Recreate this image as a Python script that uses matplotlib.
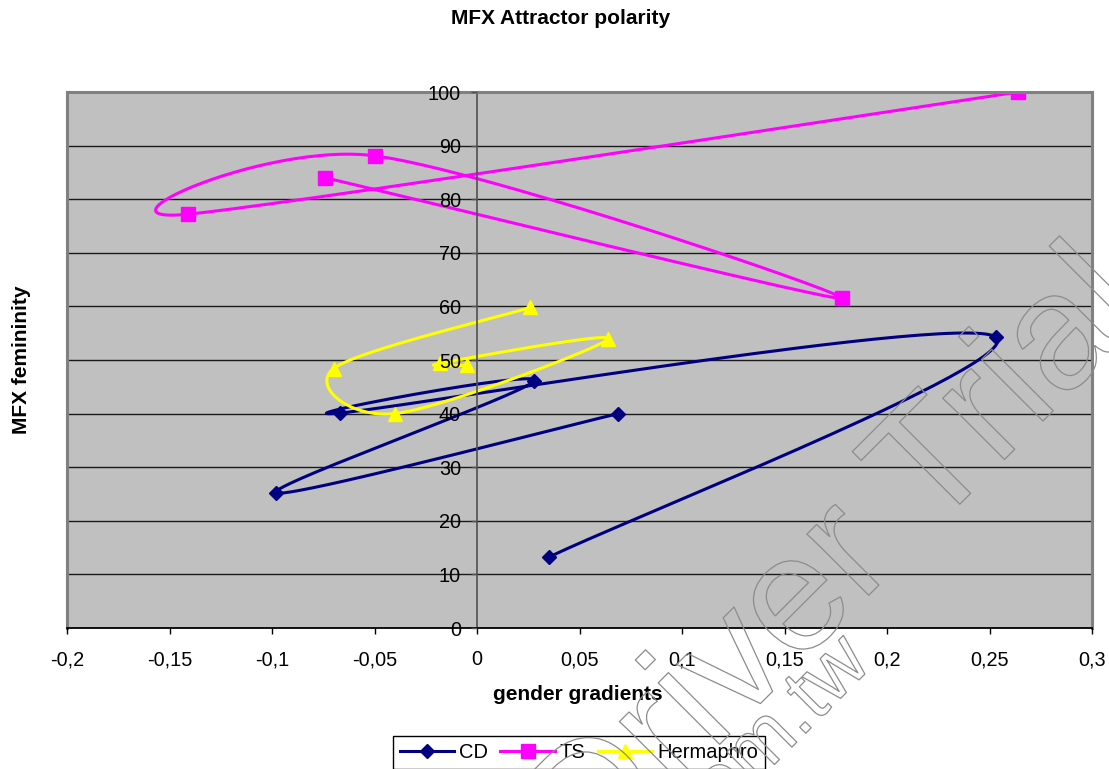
import numpy as np
import matplotlib.pyplot as plt
import matplotlib.patheffects as pe
from matplotlib.lines import Line2D

plt.rcParams['font.family'] = ['Liberation Sans', 'DejaVu Sans']

# gender gradient (x) vs. MFX femininity (y), points in recording order
cd_x = [0.035, 0.253, -0.067, 0.028, -0.098, 0.069]
cd_y = [13.2, 54.3, 40.1, 46.1, 25.2, 40.0]
ts_x = [-0.074, 0.178, -0.050, -0.141, 0.264]
ts_y = [84.0, 61.5, 88.1, 77.2, 100.0]
herm_x = [0.026, -0.070, -0.040, 0.064, -0.018, -0.005]
herm_y = [59.8, 48.4, 40.0, 53.9, 49.4, 49.0]

x_ticks = [-0.2, -0.15, -0.1, -0.05, 0.0, 0.05, 0.1, 0.15, 0.2, 0.25, 0.3]
x_labels = ['-0,2', '-0,15', '-0,1', '-0,05', '0', '0,05', '0,1', '0,15',
            '0,2', '0,25', '0,3']
y_ticks = [0, 10, 20, 30, 40, 50, 60, 70, 80, 90, 100]


def smooth(xs, ys, n=60):
    # smoothed line like the spreadsheet: Bezier segments, Catmull-Rom handles
    p = np.column_stack([xs, ys]).astype(float)
    ext = np.vstack([p[0], p, p[-1]])
    t = np.linspace(0, 1, n)[1:, None]
    out = [p[:1]]
    for i in range(len(p) - 1):
        a, b = ext[i + 1], ext[i + 2]
        c0 = a + (b - ext[i]) / 6
        c1 = b - (ext[i + 3] - a) / 6
        seg = ((1 - t) ** 3 * a + 3 * (1 - t) ** 2 * t * c0
               + 3 * (1 - t) * t ** 2 * c1 + t ** 3 * b)
        out.append(seg)
    q = np.vstack(out)
    return q[:, 0], q[:, 1]


fig = plt.figure(figsize=(11.09, 7.69), dpi=100)
ax = fig.add_axes([67 / 1109, 1 - 628 / 769, 1025 / 1109, 536 / 769])
ax.set_facecolor('#C0C0C0')
ax.set_xlim(-0.2, 0.3)
ax.set_ylim(0, 100)
ax.set_axisbelow(False)

for y in y_ticks[1:-1]:
    ax.axhline(y, color='#1a1a1a', lw=1, zorder=1)

series = [
    (cd_x, cd_y, '#000080', 'D', 7, 'CD'),
    (ts_x, ts_y, '#FF00FF', 's', 10, 'TS'),
    (herm_x, herm_y, '#FFFF00', '^', 10.5, 'Hermaphro'),
]
handles = []
for xs, ys, col, mk, ms, name in series:
    sx, sy = smooth(xs, ys)
    ax.plot(sx, sy, color=col, lw=2.2, zorder=2)
    ax.plot(xs, ys, ls='none', marker=mk, ms=ms, color=col, mec=col, zorder=2)
    handles.append(Line2D([], [], color=col, lw=2.2, marker=mk, ms=ms, mec=col, label=name))

# frame: y axis crosses at x = 0
ax.spines['left'].set_position(('data', 0))
ax.spines['left'].set_color('#505050')
ax.spines['left'].set_linewidth(1.2)
ax.spines['bottom'].set_color('black')
ax.spines['bottom'].set_linewidth(1.3)
for s in ['top', 'right']:
    ax.spines[s].set_color('#808080')
    ax.spines[s].set_linewidth(2.2)
ax.axvline(-0.2, color='#808080', lw=2.2, clip_on=False, zorder=2.5)

ax.set_xticks(x_ticks)
ax.set_xticklabels(x_labels)
ax.set_yticks(y_ticks)
ax.set_yticklabels([str(v) for v in y_ticks])
ax.tick_params(axis='x', direction='out', length=4, width=1, pad=12, labelsize=14.3)
ax.tick_params(axis='y', direction='out', length=4, width=1, pad=7.5, labelsize=14.3,
               color='#505050')

fig.text(561 / 1109, 1 - 18 / 769, 'MFX Attractor polarity', ha='center', va='center',
         fontsize=15, fontweight='bold')
fig.text(578 / 1109, 1 - 694 / 769, 'gender gradients', ha='center', va='center',
         fontsize=15, fontweight='bold')
fig.text(22 / 1109, 1 - 360 / 769, 'MFX femininity', ha='center', va='center',
         rotation=90, fontsize=15, fontweight='bold')

leg = fig.legend(handles=handles, loc='upper center', ncol=3,
                 bbox_to_anchor=(579 / 1109, 1 - 736 / 769), fontsize=14.5,
                 frameon=True, fancybox=False, framealpha=1, edgecolor='black',
                 handlelength=2.7, handletextpad=0.25, columnspacing=0.6,
                 borderpad=0.35, borderaxespad=0)
leg.get_frame().set_linewidth(1)

# outlined trial stamp across the lower right
outline = [pe.withStroke(linewidth=0.9, foreground='#8c8c8c')]
fig.text(324 / 1109, 1 - 1140 / 769, 'PDF Driver Trial', rotation=45,
         rotation_mode='anchor', ha='left', va='baseline', fontsize=118.5,
         color=(0, 0, 0, 0), path_effects=outline, zorder=10)
fig.text(873 / 1109, 1 - 666 / 769, 'www.zeon.com.tw', rotation=45,
         rotation_mode='anchor', ha='right', va='baseline', fontsize=58,
         color=(0, 0, 0, 0), path_effects=outline, zorder=10)

fig.savefig('out.png', dpi=100)
